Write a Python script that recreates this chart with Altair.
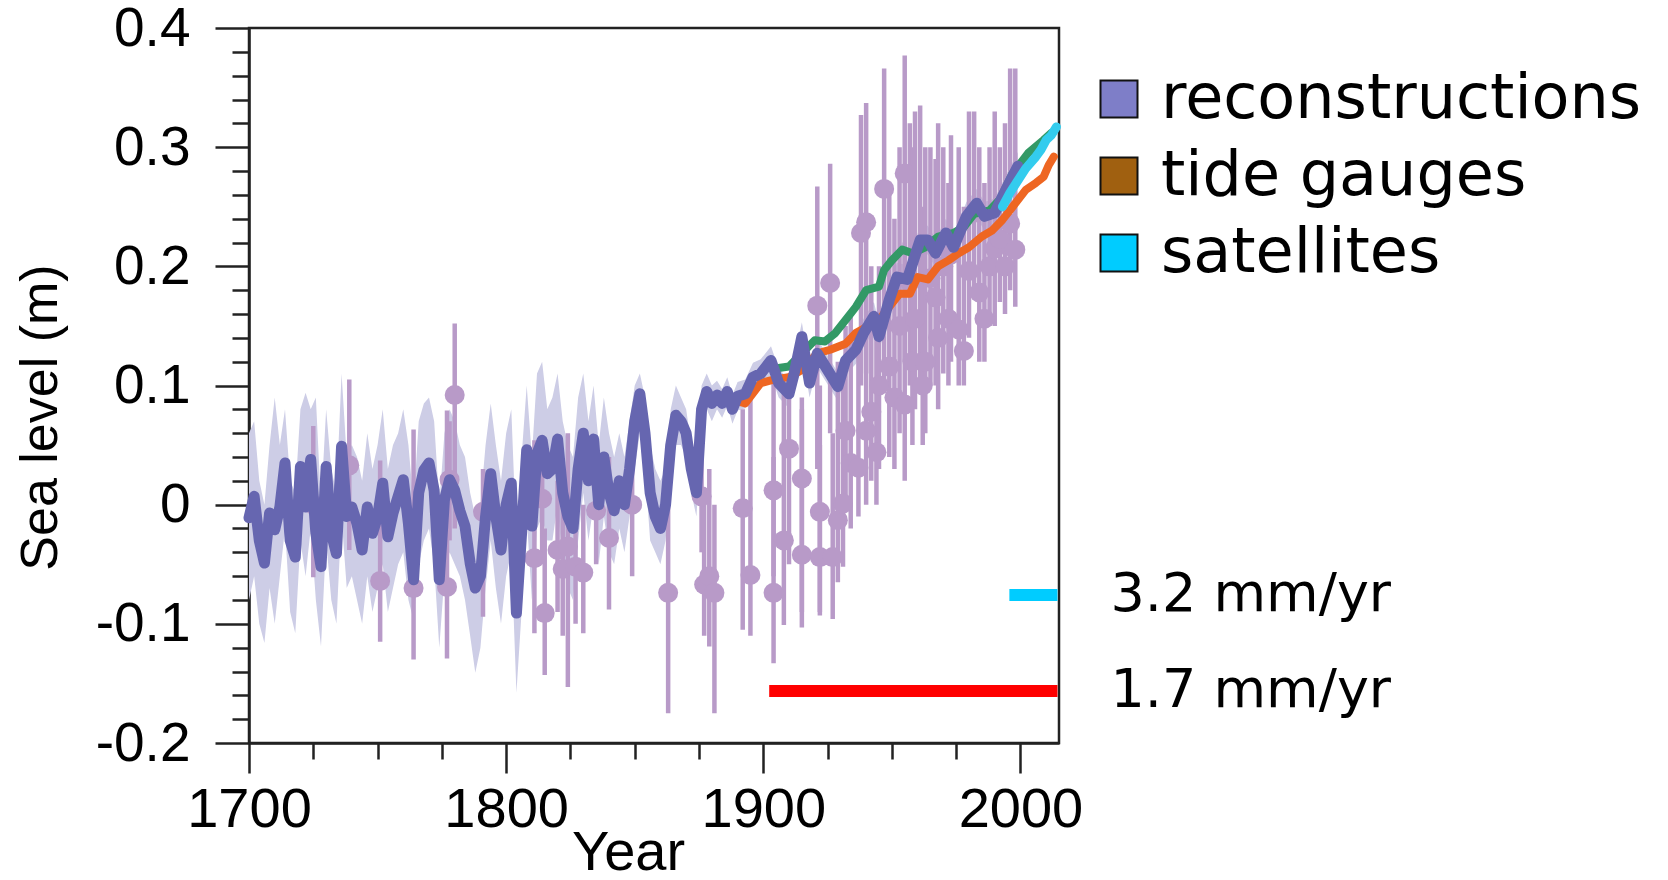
import altair as alt
import pandas as pd

# ---------------- data ----------------
recon_years = [1700, 1702, 1704, 1706, 1708, 1710, 1712, 1714, 1716, 1718, 1720, 1722, 1724, 1726, 1728,
               1730, 1732, 1734, 1736, 1738, 1740, 1742, 1744, 1746, 1748, 1750, 1752, 1754, 1756, 1758,
               1760, 1762, 1764, 1766, 1768, 1770, 1772, 1774, 1776, 1778, 1780, 1782, 1784, 1786, 1788,
               1790, 1792, 1794, 1796, 1798, 1800, 1802, 1804, 1806, 1808, 1810, 1812, 1814, 1816, 1818,
               1820, 1822, 1824, 1826, 1828, 1830, 1832, 1834, 1836, 1838, 1840, 1842, 1844, 1846, 1848,
               1850, 1852, 1854, 1856, 1858, 1860, 1862, 1864, 1866, 1868, 1870, 1872, 1874, 1876, 1878,
               1880, 1882, 1884, 1886, 1888, 1890, 1893, 1896, 1899, 1903, 1906, 1910, 1912, 1915, 1918,
               1921, 1925, 1929, 1932, 1936, 1939, 1943, 1945, 1949, 1952, 1956, 1961, 1964, 1967, 1971,
               1974, 1979, 1983, 1986, 1990, 1995, 1999]
recon_vals = [-0.011, 0.007, -0.030, -0.049, -0.007, -0.021, -0.002, 0.035, -0.030, -0.044, 0.032, -0.002, 0.038, -0.024, -0.052,
              0.032, -0.024, -0.041, 0.049, -0.010, -0.002, -0.016, -0.038, -0.002, -0.024, -0.010, 0.018, -0.027, -0.007, 0.007,
              0.021, -0.016, -0.063, 0.010, 0.029, 0.035, 0.012, -0.063, 0.004, 0.021, 0.012, -0.005, -0.018, -0.049, -0.070,
              -0.060, -0.010, 0.026, -0.010, -0.038, 0.000, 0.018, -0.091, -0.024, 0.046, -0.018, 0.043, 0.054, 0.026, 0.030,
              0.055, 0.010, -0.010, -0.020, 0.030, 0.060, 0.020, 0.055, 0.000, 0.040, 0.010, -0.005, 0.020, 0.000, 0.030,
              0.070, 0.093, 0.060, 0.010, -0.010, -0.020, 0.000, 0.050, 0.075, 0.070, 0.060, 0.030, 0.010, 0.080, 0.095,
              0.085, 0.092, 0.085, 0.095, 0.080, 0.091, 0.093, 0.107, 0.110, 0.121, 0.102, 0.093, 0.110, 0.141, 0.102,
              0.127, 0.113, 0.099, 0.121, 0.130, 0.144, 0.158, 0.141, 0.172, 0.191, 0.189, 0.222, 0.222, 0.211, 0.228,
              0.216, 0.242, 0.253, 0.242, 0.245, 0.267, 0.284]
band_lo = [-0.080, -0.060, -0.100, -0.116, -0.070, -0.100, -0.060, -0.020, -0.090, -0.108, -0.030, -0.060, -0.020, -0.080, -0.119,
           -0.030, -0.080, -0.100, -0.010, -0.070, -0.060, -0.080, -0.100, -0.060, -0.090, -0.070, -0.050, -0.090, -0.070, -0.050,
           -0.040, -0.080, -0.097, -0.050, -0.030, -0.020, -0.050, -0.120, -0.060, -0.040, -0.050, -0.060, -0.080, -0.110, -0.141,
           -0.120, -0.070, -0.030, -0.070, -0.100, -0.060, -0.040, -0.158, -0.090, -0.010, -0.080, -0.020, -0.010, -0.030, -0.030,
           0.000, -0.050, -0.070, -0.080, -0.030, 0.010, -0.030, 0.000, -0.050, -0.010, -0.040, -0.050, -0.020, -0.040, -0.010,
           0.030, 0.060, 0.030, -0.030, -0.040, -0.050, -0.030, 0.020, 0.050, 0.050, 0.040, 0.010, -0.010, 0.060, 0.080,
           0.070, 0.080, 0.073, 0.083, 0.068, 0.079, 0.081, 0.095, 0.098, 0.109, 0.090, 0.081, 0.098, 0.129, 0.090,
           0.115, 0.101, 0.087, 0.109, 0.118, 0.132, 0.146, 0.129, 0.160, 0.179, 0.177, 0.210, 0.210, 0.199, 0.216,
           0.204, 0.230, 0.241, 0.230, 0.233, 0.255, 0.272]
band_hi = [0.060, 0.070, 0.020, 0.000, 0.050, 0.090, 0.050, 0.080, 0.020, 0.010, 0.080, 0.094, 0.080, 0.090, 0.000,
           0.080, 0.030, 0.010, 0.110, 0.040, 0.050, 0.040, 0.020, 0.060, 0.030, 0.050, 0.080, 0.030, 0.050, 0.060,
           0.080, 0.050, 0.000, 0.070, 0.085, 0.090, 0.070, 0.000, 0.060, 0.080, 0.070, 0.050, 0.040, 0.010, -0.010,
           0.000, 0.050, 0.085, 0.050, 0.020, 0.060, 0.080, -0.030, 0.040, 0.100, 0.040, 0.110, 0.120, 0.080, 0.090,
           0.110, 0.070, 0.050, 0.040, 0.090, 0.110, 0.070, 0.100, 0.050, 0.090, 0.060, 0.040, 0.060, 0.040, 0.070,
           0.100, 0.110, 0.090, 0.050, 0.030, 0.020, 0.030, 0.080, 0.100, 0.090, 0.080, 0.050, 0.030, 0.100, 0.110,
           0.100, 0.104, 0.097, 0.107, 0.092, 0.103, 0.105, 0.119, 0.122, 0.133, 0.114, 0.105, 0.122, 0.153, 0.114,
           0.139, 0.125, 0.111, 0.133, 0.142, 0.156, 0.170, 0.153, 0.184, 0.203, 0.201, 0.234, 0.234, 0.223, 0.240,
           0.228, 0.254, 0.265, 0.254, 0.257, 0.279, 0.296]

tg_green_years = [1904, 1910, 1915, 1920, 1924, 1928, 1932, 1936, 1940, 1945, 1947, 1950, 1954, 1958, 1963,
                  1968, 1974, 1978, 1982, 1988, 1992, 1997, 2003, 2009, 2012]
tg_green_vals = [0.114, 0.116, 0.127, 0.138, 0.137, 0.144, 0.155, 0.166, 0.180, 0.183, 0.197, 0.205, 0.214, 0.211, 0.216,
                 0.225, 0.228, 0.233, 0.244, 0.247, 0.256, 0.278, 0.295, 0.306, 0.312]

tg_orange_years = [1883, 1888, 1893, 1899, 1904, 1910, 1915, 1921, 1926, 1932, 1936, 1940, 1945, 1949, 1953, 1957,
                   1960, 1964, 1968, 1972, 1976, 1980, 1985, 1989, 1993, 1997, 2002, 2006, 2009, 2011, 2013]
tg_orange_vals = [0.091, 0.088, 0.085, 0.102, 0.105, 0.107, 0.113, 0.127, 0.130, 0.135, 0.144, 0.149, 0.155, 0.166, 0.177, 0.177,
                  0.191, 0.189, 0.200, 0.205, 0.211, 0.216, 0.225, 0.230, 0.239, 0.250, 0.264, 0.270, 0.275, 0.285, 0.292]

sat_years = [1993, 1996, 1999, 2002, 2006, 2008, 2010, 2012, 2014]
sat_vals = [0.250, 0.262, 0.272, 0.282, 0.292, 0.298, 0.306, 0.310, 0.317]

proxy_years = [1725, 1739, 1751, 1764, 1777, 1778, 1780, 1791, 1811, 1814, 1815, 1820, 1822, 1824, 1827, 1830, 1835,
               1840, 1849, 1863, 1876, 1877, 1879, 1881, 1892, 1895, 1904, 1904, 1908, 1910, 1915, 1915, 1921, 1922,
               1922, 1926, 1927, 1929, 1931, 1932, 1934, 1937, 1938, 1940, 1940, 1942, 1944, 1945, 1947, 1949, 1951,
               1953, 1955, 1955, 1957, 1958, 1959, 1961, 1962, 1963, 1965, 1967, 1968, 1970, 1972, 1973, 1976, 1978,
               1980, 1982, 1984, 1986, 1988, 1990, 1992, 1994, 1996, 1998]
proxy_vals = [0.000, 0.033, -0.064, -0.070, -0.069, 0.021, 0.092, -0.006, -0.045, 0.005, -0.091, -0.038, -0.054, -0.035,
              -0.052, -0.057, -0.005, -0.028, 0.000, -0.074, 0.007, -0.067, -0.060, -0.074, -0.003, -0.059, -0.074, 0.012,
              -0.030, 0.047, 0.022, -0.042, 0.167, -0.006, -0.044, 0.186, -0.044, -0.013, 0.001, 0.062, 0.035, 0.031,
              0.228, 0.237, 0.062, 0.078, 0.044, 0.100, 0.265, 0.116, 0.090, 0.150, 0.278, 0.084, 0.187, 0.120, 0.156,
              0.218, 0.100, 0.120, 0.190, 0.174, 0.140, 0.200, 0.156, 0.210, 0.147, 0.129, 0.196, 0.245, 0.178, 0.156,
              0.200, 0.215, 0.223, 0.200, 0.236, 0.214]
proxy_lo = [-0.061, -0.038, -0.115, -0.130, -0.129, -0.030, -0.020, -0.094, -0.108, -0.050, -0.143, -0.090, -0.110, -0.153,
            -0.100, -0.108, -0.050, -0.088, -0.060, -0.175, -0.040, -0.110, -0.119, -0.175, -0.105, -0.110, -0.133, -0.060,
            -0.101, -0.050, -0.103, -0.090, 0.030, -0.093, -0.090, 0.060, -0.096, -0.065, -0.052, 0.000, -0.020, -0.010,
            0.100, 0.110, 0.000, 0.020, 0.000, 0.030, 0.100, 0.040, 0.030, 0.060, 0.120, 0.020, 0.100, 0.050, 0.080,
            0.100, 0.050, 0.060, 0.100, 0.100, 0.080, 0.110, 0.100, 0.120, 0.100, 0.100, 0.140, 0.180, 0.120, 0.120,
            0.150, 0.150, 0.170, 0.160, 0.180, 0.166]
proxy_hi = [0.066, 0.105, 0.037, 0.063, 0.079, 0.070, 0.152, 0.030, 0.054, 0.050, -0.020, 0.020, 0.000, 0.060, 0.010,
            0.000, 0.040, 0.040, 0.055, 0.030, 0.060, 0.000, 0.030, 0.000, 0.080, 0.090, 0.040, 0.110, 0.100, 0.110,
            0.090, 0.080, 0.267, 0.100, 0.050, 0.286, 0.060, 0.120, 0.120, 0.150, 0.160, 0.130, 0.327, 0.337, 0.180,
            0.200, 0.150, 0.200, 0.366, 0.260, 0.240, 0.300, 0.377, 0.220, 0.320, 0.300, 0.330, 0.335, 0.250, 0.300,
            0.300, 0.290, 0.320, 0.300, 0.270, 0.310, 0.300, 0.250, 0.330, 0.330, 0.300, 0.270, 0.300, 0.330, 0.300,
            0.320, 0.366, 0.366]

rate_labels = ["3.2 mm/yr", "1.7 mm/yr"]
rate_start = [1995.7, 1902.3]
rate_end = [2014.4, 2014.4]
rate_level = [-0.0758, -0.1563]
rate_colors = ["#00ccff", "#ff0000"]

legend_names = ["reconstructions", "tide gauges", "satellites"]
legend_solid = ["#7e7ec8", "#a06010", "#00ccff"]

# ---------------- tables ----------------
recon_df = pd.DataFrame({"year": recon_years, "val": recon_vals, "lo": band_lo, "hi": band_hi})
green_df = pd.DataFrame({"year": tg_green_years, "val": tg_green_vals})
orange_df = pd.DataFrame({"year": tg_orange_years, "val": tg_orange_vals})
sat_df = pd.DataFrame({"year": sat_years, "val": sat_vals})
proxy_df = pd.DataFrame({"year": proxy_years, "val": proxy_vals, "lo": proxy_lo, "hi": proxy_hi})
rate_df = pd.DataFrame({"label": rate_labels, "start": rate_start, "end": rate_end,
                        "level": rate_level, "col": rate_colors})
key_df = pd.DataFrame({"series": legend_names})

AXIS_FONT = "Liberation Sans"
TEXT_FONT = "DejaVu Sans"
INK = "#222222"

x_scale = alt.Scale(domain=[1700, 2015], nice=False, zero=False)
y_scale = alt.Scale(domain=[-0.2, 0.4], nice=False, zero=False)

x_tick_values = list(range(1700, 2001, 25))
y_tick_values = [round(-0.2 + 0.02 * i, 2) for i in range(31)]

x_axis = alt.Axis(
    values=x_tick_values,
    labelExpr="datum.value % 100 === 0 ? format(datum.value, 'd') : ''",
    tickSize={"condition": {"test": "datum.value % 100 === 0", "value": 30}, "value": 16},
    tickWidth=2.5, tickColor=INK, domainColor=INK, domainWidth=2.5,
    labelFont=AXIS_FONT, labelFontSize=56, labelColor="black", labelPadding=9,
    labelOverlap=False, labelFlush=False, grid=False,
    title="Year", titleFont=AXIS_FONT, titleFontSize=56, titleFontWeight="normal", titleColor="black",
    titleX=379, titleY=126, titleAlign="center", titleBaseline="alphabetic",
)
major_test = "abs(datum.value * 10 - round(datum.value * 10)) < 0.001"
y_axis = alt.Axis(
    values=y_tick_values,
    labelExpr=(major_test + " ? (abs(datum.value) < 0.001 ? '0' : (datum.value < 0 ? '-' + "
               "format(-datum.value, '.1f') : format(datum.value, '.1f'))) : ''"),
    tickSize={"condition": {"test": major_test, "value": 34}, "value": 17},
    tickWidth=2.5, tickColor=INK, domainColor=INK, domainWidth=2.5,
    labelFont=AXIS_FONT, labelFontSize=55, labelColor="black", labelPadding=25,
    labelOverlap=False, labelFlush=False, grid=False,
    title="Sea level (m)", titleFont=AXIS_FONT, titleFontSize=52, titleFontWeight="normal",
    titleColor="black", titleX=-209, titleY=389, titleAlign="center", titleBaseline="middle",
    titleAngle=270,
)


def grad(c0, c1):
    return {"gradient": "linear", "x1": 0, "y1": 0, "x2": 1, "y2": 1,
            "stops": [{"offset": 0, "color": c0}, {"offset": 1, "color": c1}]}


def make_legend(with_gradient):
    opts = dict(title=None, orient="none", legendX=839, legendY=40, values=legend_names,
                symbolType="square", symbolSize=1369, symbolStrokeWidth=2, symbolStrokeColor="#111111",
                symbolOpacity=1,
                labelFont=TEXT_FONT, labelFontSize=62, labelColor="black", labelLimit=0,
                labelOffset=11, rowPadding=15, padding=0)
    if with_gradient:
        opts["encode"] = {"symbols": {
            "fill": {"condition": [
                {"test": "datum.value === 'reconstructions'", "value": grad("#30309a", "#ccccff")},
                {"test": "datum.value === 'tide gauges'", "value": grad("#229900", "#ff2200")},
            ], "value": "#00ccff"},
            "stroke": {"value": "#111111"},
            "strokeWidth": {"value": 2},
            "opacity": {"value": 1},
        }}
    return alt.Legend(**opts)


def build(with_gradient):
    legend = make_legend(with_gradient)
    X = lambda f="year": alt.X(f"{f}:Q", scale=x_scale, axis=x_axis)
    Y = lambda f="val": alt.Y(f"{f}:Q", scale=y_scale, axis=y_axis)

    band = alt.Chart(recon_df).mark_area(color="#cdcde6", opacity=1, interpolate="linear").encode(
        x=X(), y=Y("lo"), y2="hi:Q")
    err = alt.Chart(proxy_df).mark_rule(color="#b89ac8", strokeWidth=4.5).encode(
        x=X(), y=Y("lo"), y2="hi:Q")
    pts = alt.Chart(proxy_df).mark_circle(color="#b89ac8", opacity=1, size=400).encode(x=X(), y=Y())
    line_kw = dict(strokeCap="round", strokeJoin="round")
    orange = alt.Chart(orange_df).mark_line(color="#ee6622", strokeWidth=8, **line_kw).encode(x=X(), y=Y())
    green = alt.Chart(green_df).mark_line(color="#339966", strokeWidth=8, **line_kw).encode(x=X(), y=Y())
    recon = alt.Chart(recon_df).mark_line(color="#6666b0", strokeWidth=11, **line_kw).encode(x=X(), y=Y())
    sat = alt.Chart(sat_df).mark_line(color="#33ccee", strokeWidth=9, **line_kw).encode(x=X(), y=Y())
    bars = alt.Chart(rate_df).mark_rule(strokeWidth=12, strokeCap="butt").encode(
        x=X("start"), x2="end:Q", y=Y("level"), stroke=alt.Stroke("col:N", scale=None))
    texts = alt.Chart(rate_df).mark_text(align="left", baseline="middle", dx=53, dy=0,
                                         font=TEXT_FONT, fontSize=54, color="black").encode(
        x=X("end"), y=Y("level"), text="label:N")
    # invisible carrier for the key (legend) only
    key = alt.Chart(key_df).mark_square(opacity=0, filled=True, size=1).encode(
        color=alt.Color("series:N", scale=alt.Scale(domain=legend_names, range=legend_solid),
                        legend=legend))

    chart = alt.layer(band, err, pts, orange, green, recon, sat, bars, texts, key).properties(
        width=810, height=715, autosize="none",
        padding={"left": 249, "top": 28, "right": 609, "bottom": 137},
        background="white",
    ).configure_view(stroke=INK, strokeWidth=2.5)
    return chart


try:
    chart = build(True)
    chart.to_dict()
except Exception:
    chart = build(False)

chart.save("out.html", embed_options={"renderer": "svg", "actions": False})
